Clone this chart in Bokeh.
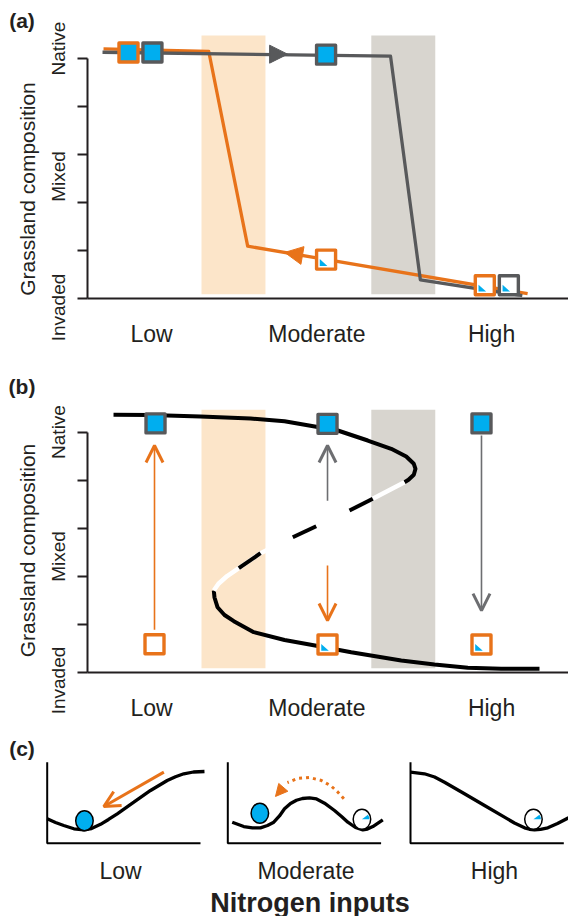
import math
from bokeh.plotting import figure
from bokeh.models import Range1d, Arrow, NormalHead, OpenHead
from bokeh.layouts import column
from bokeh.embed import file_html
from bokeh.resources import INLINE
from bokeh.core.properties import value

FONT = "Liberation Sans"
ORANGE = "#E8731A"
GREY = "#58595B"
ARROW_GREY = "#6D6E71"
BLUE = "#00AEEF"
BAND_ORANGE = "#FCE5C9"
BAND_GREY = "#D8D5CF"
INK = "#231F20"

# ---------------- data ----------------
# nitrogen axis in arbitrary units (0-100); composition: 0 = invaded, 5 = native
n_labels = ["Low", "Moderate", "High"]
n_label_pos = [13.3, 47.7, 84.0]
comp_ticks = [0, 1, 2, 3, 4, 5]
comp_labels = ["Native", "Mixed", "Invaded"]

band_orange_n = [23.7, 37.0]
band_grey_n = [59.0, 72.3]

# (a) observed trajectories
a_up_n = [3.12, 63.0, 69.2, 90.4]          # increasing N (grey)
a_up_c = [5.13, 5.05, 0.39, 0.06]
a_down_n = [3.33, 25.2, 33.3, 91.5]        # decreasing N (orange)
a_down_c = [5.20, 5.15, 1.09, 0.10]
a_native_n = [8.52, 13.5, 49.6]
a_native_c = [5.125, 5.125, 5.08]
a_native_series = ["down", "up", "up"]
a_invaded_n = [49.6, 82.6, 87.6]
a_invaded_c = [0.81, 0.275, 0.275]
a_invaded_series = ["down", "down", "up"]
a_dir_n0 = [35.0, 49.6]
a_dir_c0 = [5.09, 0.81]
a_dir_n1 = [41.6, 41.0]
a_dir_c1 = [5.09, 0.96]
a_dir_series = ["up", "down"]

# (b) equilibrium curve (S-shaped)
b_upper_n = [5.41, 13.10, 23.49, 33.89, 40.96, 52.04, 58.27, 63.14, 66.26, 67.84, 68.19, 67.84, 66.74, 65.90]
b_upper_c = [5.369, 5.365, 5.333, 5.292, 5.235, 5.042, 4.833, 4.660, 4.500, 4.348, 4.244, 4.119, 4.015, 3.965]
b_mid_n = [65.90, 59.31, 54.47, 47.55, 42.68, 35.97, 31.46, 29.04, 27.23, 26.26]
b_mid_c = [3.965, 3.619, 3.375, 3.048, 2.819, 2.485, 2.173, 2.010, 1.848, 1.708]
b_lower_n = [26.26, 26.40, 27.03, 28.48, 30.42, 34.57, 40.96, 47.88, 54.82, 65.22, 72.14, 79.06, 86.01, 93.97]
b_lower_c = [1.708, 1.5625, 1.360, 1.198, 1.069, 0.840, 0.677, 0.552, 0.423, 0.25, 0.167, 0.098, 0.077, 0.077]
b_native_n = [14.14, 49.90, 81.91]
b_native_c = [5.19, 5.18, 5.19]
b_invaded_n = [13.93, 49.90, 81.91]
b_invaded_c = [0.59, 0.583, 0.583]
b_invaded_trace = [False, True, True]
b_arr_n = [13.93, 49.90, 49.90, 81.91]
b_arr_c0 = [0.89, 3.58, 2.23, 4.94]
b_arr_c1 = [4.73, 4.73, 1.083, 1.29]
b_arr_series = ["down", "up", "down", "up"]

# (c) stability landscapes (local units 0-1)
land1_x = [0.000, 0.054, 0.108, 0.174, 0.239, 0.289, 0.348, 0.400, 0.457, 0.565, 0.674, 0.783, 0.837, 0.891, 0.954, 1.026]
land1_u = [0.301, 0.256, 0.219, 0.178, 0.165, 0.181, 0.233, 0.293, 0.363, 0.506, 0.651, 0.774, 0.820, 0.857, 0.879, 0.885]
land2_x = [0.029, 0.104, 0.161, 0.213, 0.259, 0.300, 0.337, 0.370, 0.409, 0.448, 0.487, 0.533, 0.579, 0.631, 0.696, 0.742, 0.783, 0.833, 0.881, 0.911, 0.946, 1.011]
land2_u = [0.259, 0.206, 0.188, 0.190, 0.219, 0.259, 0.336, 0.425, 0.490, 0.530, 0.552, 0.560, 0.546, 0.494, 0.404, 0.330, 0.259, 0.194, 0.165, 0.175, 0.206, 0.289]
land3_x = [0.000, 0.091, 0.157, 0.222, 0.352, 0.483, 0.613, 0.678, 0.744, 0.776, 0.809, 0.848, 0.896, 0.959, 1.031]
land3_u = [0.877, 0.857, 0.817, 0.753, 0.610, 0.465, 0.321, 0.249, 0.190, 0.172, 0.165, 0.172, 0.190, 0.243, 0.314]
ball_panel = [0, 1, 1, 2]
ball_x = [0.243, 0.209, 0.875, 0.802]
ball_u = [0.277, 0.370, 0.295, 0.295]
ball_native = [True, True, False, False]
push_x = [0.761, 0.369]      # panel 1 push arrow (start, end)
push_u = [0.877, 0.453]
jump_x = [0.757, 0.718, 0.674, 0.611, 0.533, 0.455, 0.389, 0.311]   # panel 2 dotted jump
jump_u = [0.548, 0.630, 0.706, 0.774, 0.811, 0.799, 0.749, 0.577]

# ---------------- helpers ----------------
PX_N = 4.81   # px per nitrogen unit
PX_C = 48.0   # px per composition unit
AX_LEFT = 87  # px from the figure's left edge to the composition axis
col = {"up": GREY, "down": ORANGE}
arrow_col = {"up": ARROW_GREY, "down": ORANGE}


def n_at(px):
    return (px - AX_LEFT) / PX_N


def panel_fig(height, axis_px):
    """Figure whose frame fills the canvas; axis_px = distance of the N axis from the top."""
    p = figure(width=568, height=height,
               x_range=Range1d(n_at(0), n_at(568)),
               y_range=Range1d(-(height - axis_px) / PX_C, axis_px / PX_C),
               output_backend="svg", toolbar_location=None,
               x_axis_type=None, y_axis_type=None,
               min_border_left=0, min_border_right=0, min_border_top=0, min_border_bottom=0)
    p.outline_line_color = None
    p.grid.visible = False
    return p


def draw_axes(p, axis_px, letter, letter_px, native_px, mixed_px, invaded_px, title_px):
    def c_at(py):
        return (axis_px - py) / PX_C
    # composition axis with ticks
    p.segment(x0=[0], y0=[0], x1=[0], y1=[max(comp_ticks)], line_color=INK, line_width=2)
    p.segment(x0=[n_at(AX_LEFT - 10)] * len(comp_ticks), y0=comp_ticks,
              x1=[0] * len(comp_ticks), y1=comp_ticks, line_color=INK, line_width=2)
    # nitrogen axis
    p.segment(x0=[0], y0=[0], x1=[n_at(568)], y1=[0], line_color=INK, line_width=2)
    p.text(x=n_label_pos, y=[c_at(axis_px + 35.5)] * 3, text=n_labels,
           text_font=value(FONT), text_font_size=value("23px"), text_color=INK,
           text_align="center", text_baseline="alphabetic")
    p.text(x=[n_at(57.5)] * 3, y=[c_at(native_px), c_at(mixed_px), c_at(invaded_px)],
           text=comp_labels, angle=math.pi / 2, text_font=value(FONT),
           text_font_size=value("19px"), text_color=INK, text_align="center",
           text_baseline="middle")
    p.text(x=[n_at(26.7)], y=[c_at(title_px)], text=["Grassland composition"],
           angle=math.pi / 2, text_font=value(FONT), text_font_size=value("21px"),
           text_color=INK, text_align="center", text_baseline="middle")
    p.text(x=[n_at(21.5)], y=[c_at(letter_px)], text=[letter], text_font=value(FONT),
           text_font_style="bold", text_font_size=value("21px"), text_color=INK,
           text_align="center", text_baseline="middle")


def bands(p, top):
    p.quad(left=[band_orange_n[0]], right=[band_orange_n[1]], bottom=[0.09], top=[top],
           fill_color=BAND_ORANGE, line_color=None)
    p.quad(left=[band_grey_n[0]], right=[band_grey_n[1]], bottom=[0.09], top=[top],
           fill_color=BAND_GREY, line_color=None)


def squares(p, ns, cs, edges, fill):
    p.scatter(ns, cs, marker="square", size=19, fill_color=fill, line_color=edges,
              line_width=3.4, line_join="round")


def traces(p, ns, cs, flags):
    xs, ys = [], []
    for n, c, f in zip(ns, cs, flags):
        if not f:
            continue
        l = n - 6.3 / PX_N
        b = c - 6.3 / PX_C
        xs.append([l, l, n + 1.3 / PX_N])
        ys.append([b, b + 6.8 / PX_C, b])
    p.patches(xs, ys, fill_color=BLUE, line_color=None)


# ---------------- panel (a) ----------------
A_AXIS = 298
pa = panel_fig(356, A_AXIS)
bands(pa, (A_AXIS - 35) / PX_C)
draw_axes(pa, A_AXIS, "(a)", 20, 48, 176, 307, 188.5)
pa.line(a_down_n, a_down_c, line_color=ORANGE, line_width=3.3, line_join="round")
pa.line(a_up_n, a_up_c, line_color=GREY, line_width=3.3, line_join="round")
squares(pa, a_native_n, a_native_c, [col[s] for s in a_native_series], BLUE)
squares(pa, a_invaded_n, a_invaded_c, [col[s] for s in a_invaded_series], "white")
traces(pa, a_invaded_n, a_invaded_c, [True] * len(a_invaded_n))
for n0, c0, n1, c1, s in zip(a_dir_n0, a_dir_c0, a_dir_n1, a_dir_c1, a_dir_series):
    pa.add_layout(Arrow(end=NormalHead(size=18, fill_color=col[s], line_color=col[s], line_width=1),
                        x_start=n0, y_start=c0, x_end=n1, y_end=c1, line_alpha=0))

# ---------------- panel (b) ----------------
B_AXIS = 316   # 672 - 356
pb = panel_fig(372, B_AXIS)
bands(pb, (672 - 409.3) / PX_C)
draw_axes(pb, B_AXIS, "(b)", 386 - 356, 431.5 - 356, 556 - 356, 680 - 356, 550 - 356)
pb.line(b_upper_n, b_upper_c, line_color="black", line_width=4)
pb.line(b_lower_n, b_lower_c, line_color="black", line_width=4)
pb.line(b_mid_n, b_mid_c, line_color="white", line_width=4.5)
dash_xs = [b_mid_n[i:i + 2] for i in (1, 3, 5)]
dash_ys = [b_mid_c[i:i + 2] for i in (1, 3, 5)]
pb.multi_line(dash_xs, dash_ys, line_color="black", line_width=4)
for n, c0, c1, s in zip(b_arr_n, b_arr_c0, b_arr_c1, b_arr_series):
    cc = arrow_col[s]
    pb.add_layout(Arrow(end=OpenHead(size=17, line_color=cc, line_width=3),
                        x_start=n, y_start=c0, x_end=n, y_end=c1,
                        line_color=cc, line_width=1.6))
squares(pb, b_native_n, b_native_c, GREY, BLUE)
squares(pb, b_invaded_n, b_invaded_c, ORANGE, "white")
traces(pb, b_invaded_n, b_invaded_c, b_invaded_trace)

# ---------------- panel (c) ----------------
pc = figure(width=568, height=188, x_range=Range1d(0, 568), y_range=Range1d(0, 188),
            output_backend="svg", toolbar_location=None, x_axis_type=None, y_axis_type=None,
            min_border_left=0, min_border_right=0, min_border_top=0, min_border_bottom=0)
pc.outline_line_color = None
pc.grid.visible = False

BOX_L = [46.7, 227.3, 410.0]
BOX_B = 73.3
BOX_W = 153.3
BOX_H = 81.0


def cx(i, lx):
    return [BOX_L[i] + v * BOX_W for v in lx]


def cy(lu):
    return [BOX_B + v * BOX_H for v in lu]


for i in range(3):
    pc.line([BOX_L[i], BOX_L[i], BOX_L[i] + BOX_W], [BOX_B + BOX_H, BOX_B, BOX_B],
            line_color="black", line_width=2)
for i, (lx, lu) in enumerate([(land1_x, land1_u), (land2_x, land2_u), (land3_x, land3_u)]):
    pc.line(cx(i, lx), cy(lu), line_color="black", line_width=3.3)

px0, px1 = cx(0, push_x)
py0, py1 = cy(push_u)
pc.add_layout(Arrow(end=OpenHead(size=16, line_color=ORANGE, line_width=3),
                    x_start=px0, y_start=py0, x_end=px1, y_end=py1,
                    line_color=ORANGE, line_width=3))
jx = cx(1, jump_x)
jy = cy(jump_u)
pc.line(jx[:-1], jy[:-1], line_color=ORANGE, line_width=3, line_dash="3 4")
pc.add_layout(Arrow(end=NormalHead(size=12, fill_color=ORANGE, line_color=ORANGE, line_width=1),
                    x_start=jx[-2], y_start=jy[-2], x_end=jx[-1], y_end=jy[-1], line_alpha=0))

bx = [BOX_L[k] + v * BOX_W for k, v in zip(ball_panel, ball_x)]
by = cy(ball_u)
pc.ellipse(bx, by, width=17.5, height=20,
           fill_color=[BLUE if f else "white" for f in ball_native],
           line_color="black", line_width=1.5)
wx = [x for x, f in zip(bx, ball_native) if not f]
wy = [y for y, f in zip(by, ball_native) if not f]
pc.wedge(wx, wy, radius=7.5, start_angle=0.0, end_angle=0.65, fill_color=BLUE, line_color=None)

pc.text(x=[120, 305.5, 494], y=[46, 46, 46], text=n_labels, text_font=value(FONT),
        text_font_size=value("23px"), text_color=INK, text_align="center",
        text_baseline="middle")
pc.text(x=[21.5], y=[168.5], text=["(c)"], text_font=value(FONT), text_font_style="bold",
        text_font_size=value("21px"), text_color=INK, text_align="center",
        text_baseline="middle")
pc.text(x=[309.5], y=[14], text=["Nitrogen inputs"], text_font=value(FONT),
        text_font_style="bold", text_font_size=value("27px"), text_color=INK,
        text_align="center", text_baseline="middle")

layout = column(pa, pb, pc, spacing=0)
open("out.html", "w").write(file_html(layout, INLINE))
